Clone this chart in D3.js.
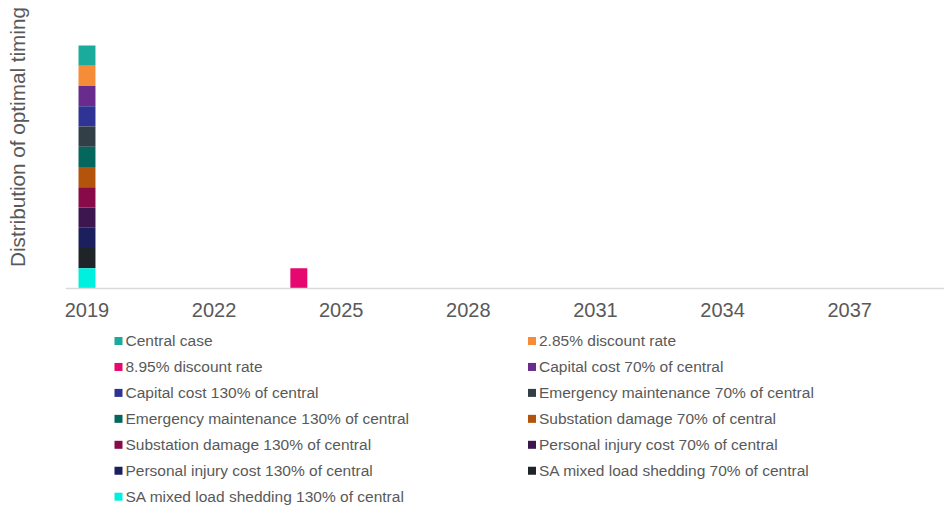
<!DOCTYPE html>
<html>
<head>
<meta charset="utf-8">
<script src="https://cdn.jsdelivr.net/npm/d3@7"></script>
<style>
  html, body { margin: 0; padding: 0; background: #fff; }
  svg { display: block; font-family: "Liberation Sans", Arial, sans-serif; }
</style>
</head>
<body>
<svg id="chart" width="944" height="507"></svg>
<script>
// Years on the category axis
const years = [2019, 2020, 2021, 2022, 2023, 2024, 2025, 2026, 2027, 2028, 2029,
               2030, 2031, 2032, 2033, 2034, 2035, 2036, 2037, 2038, 2039];
const tickYears = [2019, 2022, 2025, 2028, 2031, 2034, 2037];

// Sensitivity scenarios
const scenarios = [
  "Central case",
  "2.85% discount rate",
  "8.95% discount rate",
  "Capital cost 70% of central",
  "Capital cost 130% of central",
  "Emergency maintenance 70% of central",
  "Emergency maintenance 130% of central",
  "Substation damage 70% of central",
  "Substation damage 130% of central",
  "Personal injury cost 70% of central",
  "Personal injury cost 130% of central",
  "SA mixed load shedding 70% of central",
  "SA mixed load shedding 130% of central"
];
const scenarioColors = [
  "#1aab9c", "#f68b38", "#e6076f", "#692b8c", "#2f3494", "#333f47", "#04665d",
  "#b4530b", "#880a48", "#3d164f", "#1c1f5e", "#1f2428", "#00f0df"
];
// Optimal timing year for each scenario and its share of the distribution
const optimalYear = [2019, 2019, 2024, 2019, 2019, 2019, 2019, 2019, 2019, 2019, 2019, 2019, 2019];
const share = [1, 1, 1, 1, 1, 1, 1, 1, 1, 1, 1, 1, 1];

// Table: one row per year, one column per scenario
const table = years.map(y => {
  const row = { year: y };
  scenarios.forEach((s, i) => { row[s] = optimalYear[i] === y ? share[i] : 0; });
  return row;
});

const svg = d3.select("#chart");
const textColor = "#595959";

const x = d3.scaleBand()
  .domain(years)
  .range([65.8, 65.8 + 42.37 * years.length])
  .paddingInner(0.6)
  .paddingOuter(0.3);

const y = d3.scaleLinear().domain([0, 14]).range([288.5, 5]);

const stack = d3.stack().keys(scenarios).order(d3.stackOrderReverse);
const layers = stack(table);

const color = d3.scaleOrdinal().domain(scenarios).range(scenarioColors);

svg.append("g")
  .selectAll("g")
  .data(layers)
  .join("g")
    .attr("fill", d => color(d.key))
  .selectAll("rect")
  .data(d => d.filter(p => p[1] - p[0] > 0))
  .join("rect")
    .attr("x", d => x(d.data.year))
    .attr("width", x.bandwidth())
    .attr("y", d => y(d[1]))
    .attr("height", d => y(d[0]) - y(d[1]));

// Category axis
const xAxis = d3.axisBottom(x).tickValues(tickYears).tickSize(0).tickPadding(14)
  .tickFormat(d3.format("d"));
const gx = svg.append("g").attr("transform", `translate(0,${y(0)})`).call(xAxis);
gx.select(".domain").attr("stroke", "#d9d9d9").attr("stroke-width", 1.3)
  .attr("d", `M${x.range()[0]},0H${x.range()[1]}`);
gx.selectAll("text").attr("font-size", 20).attr("fill", textColor)
  .attr("font-family", "Liberation Sans, Arial, sans-serif");

// Value axis title
svg.append("text")
  .attr("transform", "translate(25,137) rotate(-90)")
  .attr("text-anchor", "middle")
  .attr("font-size", 20.7)
  .attr("fill", textColor)
  .text("Distribution of optimal timing");

// Legend in two columns
const legend = svg.append("g");
const colX = [114.5, 528];
const rowY0 = 341, rowStep = 25.95;
const items = legend.selectAll("g")
  .data(scenarios)
  .join("g")
    .attr("transform", (d, i) => `translate(${colX[i % 2]},${rowY0 + Math.floor(i / 2) * rowStep})`);
items.append("rect")
  .attr("x", 0).attr("y", -4).attr("width", 8).attr("height", 8)
  .attr("fill", d => color(d));
items.append("text")
  .attr("x", 11).attr("y", 0).attr("dy", "0.35em")
  .attr("font-size", 15.5)
  .attr("fill", textColor)
  .text(d => d);
</script>
</body>
</html>
